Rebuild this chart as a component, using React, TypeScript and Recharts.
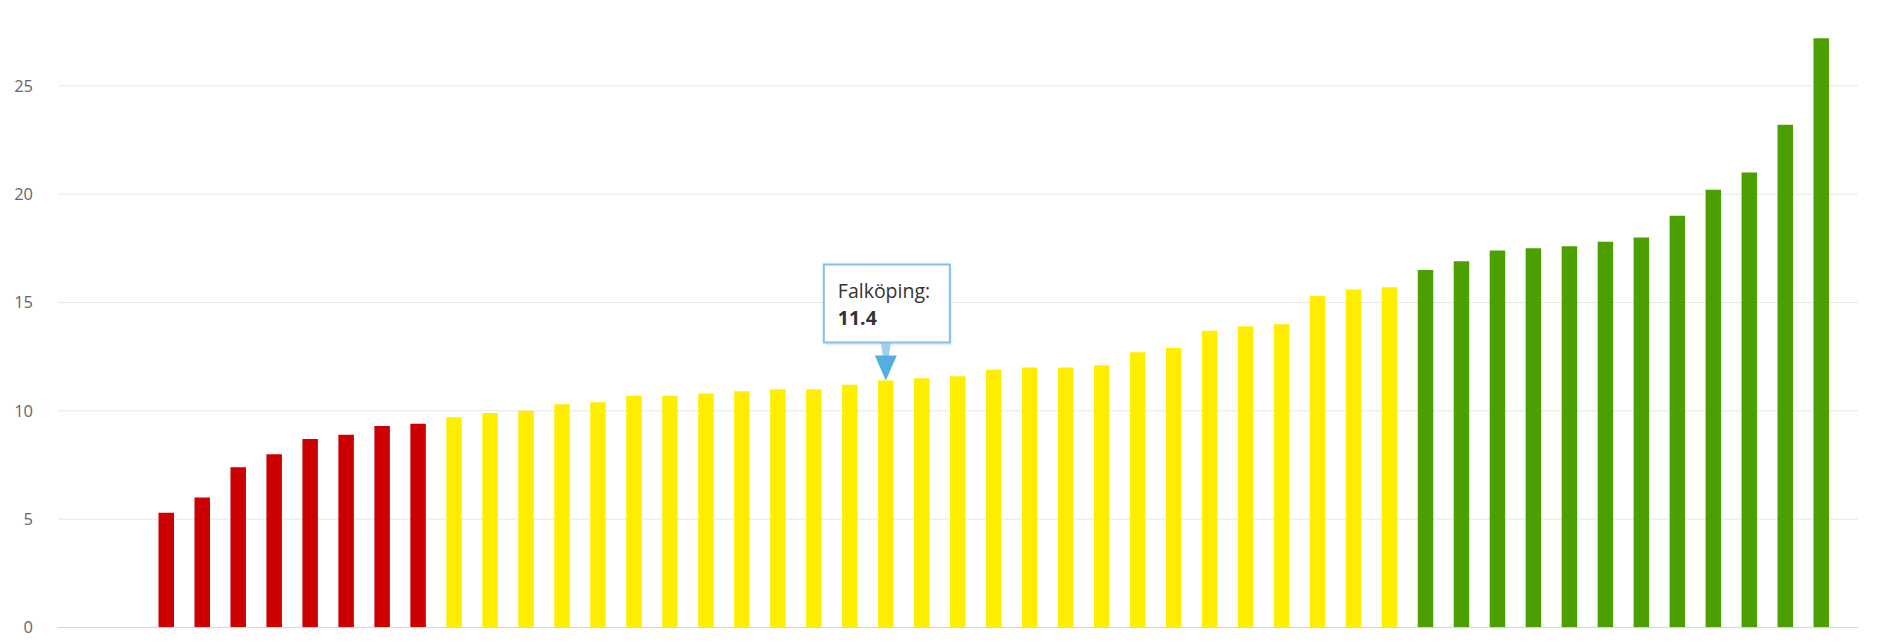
import React from 'react';
import { BarChart, Bar, XAxis, YAxis, CartesianGrid, Cell } from 'recharts';

// Only one municipality name is visible in the picture (the highlighted one)
const municipalities = [
  'K01', 'K02', 'K03', 'K04', 'K05', 'K06', 'K07', 'K08',
  'K09', 'K10', 'K11', 'K12', 'K13', 'K14', 'K15', 'K16', 'K17', 'K18', 'K19', 'K20', 'Falköping',
  'K22', 'K23', 'K24', 'K25', 'K26', 'K27', 'K28', 'K29', 'K30', 'K31', 'K32', 'K33', 'K34', 'K35',
  'K36', 'K37', 'K38', 'K39', 'K40', 'K41', 'K42', 'K43', 'K44', 'K45', 'K46', 'K47',
];

const values = [
  5.3, 6.0, 7.4, 8.0, 8.7, 8.9, 9.3, 9.4,
  9.7, 9.9, 10.0, 10.3, 10.4, 10.7, 10.7, 10.8, 10.9, 11.0, 11.0, 11.2, 11.4,
  11.5, 11.6, 11.9, 12.0, 12.0, 12.1, 12.7, 12.9, 13.7, 13.9, 14.0, 15.3, 15.6, 15.7,
  16.5, 16.9, 17.4, 17.5, 17.6, 17.8, 18.0, 19.0, 20.2, 21.0, 23.2, 27.2,
];

const yTicks = [0, 5, 10, 15, 20, 25];

// colour by level: below first limit red, below second yellow, else green
const limits = [9.5, 16];
const levelColors = ['#cc0000', '#ffee00', '#4ba000'];

const highlighted = 'Falköping';

const data = municipalities.map((name, i) => ({ name, value: values[i] }));

const colorFor = (v: number) => {
  if (v < limits[0]) return levelColors[0];
  if (v < limits[1]) return levelColors[1];
  return levelColors[2];
};

const TooltipLabel = (props: any) => {
  const { x, y, width, index } = props;
  if (data[index]?.name !== highlighted) return null;
  const cx = x + width / 2;
  const boxW = 126;
  const boxH = 78;
  const left = cx - 62;
  const top = y - 116;
  return (
    <g>
      <rect x={left + 2} y={top + 3} width={boxW} height={boxH} fill='rgba(0,0,0,0.07)' />
      <polygon points={`${cx - 5},${top + boxH} ${cx + 5},${top + boxH} ${cx + 3},${y - 24} ${cx - 3},${y - 24}`} fill='#9fcfee' />
      <rect x={left} y={top} width={boxW} height={boxH} fill='#ffffff' stroke='#86c0e8' strokeWidth={2} />
      <polygon points={`${cx - 11},${y - 25} ${cx + 11},${y - 25} ${cx},${y}`} fill='#55aee0' />
      <text x={left + 14} y={top + 34} fontSize={19.5} fill='#333333'>
        {data[index].name}:
      </text>
      <text x={left + 14} y={top + 61} fontSize={19.5} fontWeight='bold' fill='#333333'>
        {data[index].value}
      </text>
    </g>
  );
};

const App: React.FC = () => {
  return (
    <div style={{ width: 1862, height: 636, fontFamily: "'Open Sans', sans-serif", background: '#ffffff' }}>
      <BarChart
        width={1862}
        height={636}
        data={data}
        margin={{ top: 12.8, right: 12, bottom: 0, left: 0 }}>
        <CartesianGrid
          horizontal={true}
          vertical={false}
          horizontalValues={yTicks}
          stroke='#e6e6e6'
        />
        <XAxis
          dataKey='name'
          height={16.5}
          tick={false}
          tickLine={false}
          axisLine={{ stroke: '#ccd6eb' }}
          padding={{ left: 90.5, right: 18.5 }}
        />
        <YAxis
          width={50}
          domain={[0, 28]}
          ticks={yTicks}
          axisLine={false}
          tickLine={false}
          tickSize={0}
          tickMargin={25}
          tick={{ fill: '#666666', fontSize: 16.5 }}
        />
        <Bar
          dataKey='value'
          barSize={15.5}
          isAnimationActive={false}
          label={<TooltipLabel />}>
          {data.map((d) => (
            <Cell
              key={d.name}
              fill={colorFor(d.value)}
            />
          ))}
        </Bar>
      </BarChart>
    </div>
  );
};

export default App;
